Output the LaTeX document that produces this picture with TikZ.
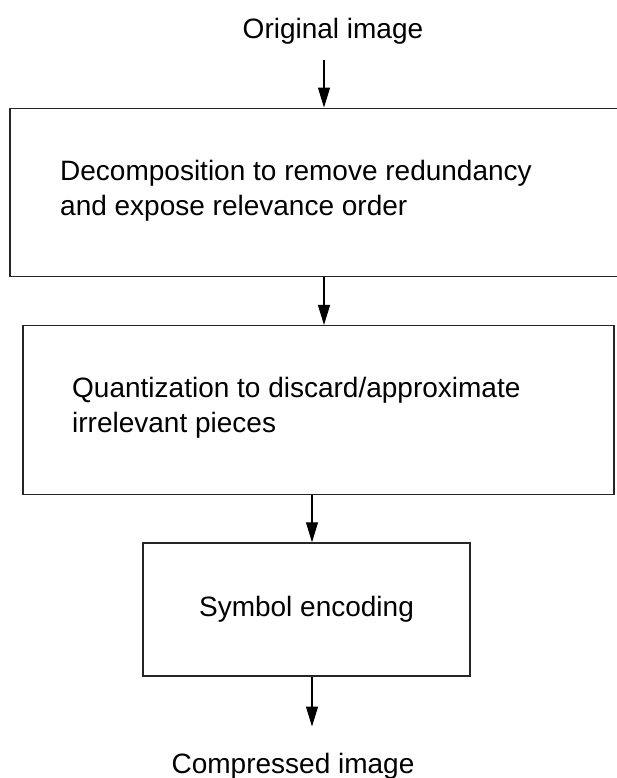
\documentclass[tikz,border=0pt]{standalone}
\usepackage{fontspec}
\setmainfont{Liberation Sans}
\usetikzlibrary{arrows.meta}

\begin{document}
\begin{tikzpicture}[
  x=1pt, y=-1pt,
  font=\fontsize{28}{35}\selectfont,
  box/.style={draw=black!85, line width=1.5pt, inner sep=0pt},
  txt/.style={inner sep=0pt, align=left},
  arr/.style={-{Triangle[length=20pt,width=12pt]}, line width=1.2pt}
]
\useasboundingbox (0,0) rectangle (616,778);

\node[txt, anchor=base, inner ysep=15pt] (orig) at (333,39) {Original image};

\node[box, minimum width=610pt, minimum height=168.4pt] (decomp) at (315,192.5) {};
\node[txt, anchor=base west] (decomptxt) at (60,215) {Decomposition to remove redundancy\\and expose relevance order};

\node[box, minimum width=591.3pt, minimum height=168.8pt] (quant) at (318.4,410.1) {};
\node[txt, anchor=base west] (quanttxt) at (72,432) {Quantization to discard/approximate\\irrelevant pieces};

\node[box, minimum width=327pt, minimum height=133pt] (encode) at (306.5,609.5) {Symbol encoding};

\node[txt, anchor=base, inner ysep=26pt] (comp) at (293,773) {Compressed image};

\coordinate (upper) at (324,0);
\coordinate (lower) at (312,0);
\draw[arr] (orig.south -| upper) -- (decomp.north -| upper);
\draw[arr] (decomp.south -| upper) -- (quant.north -| upper);
\draw[arr] (quant.south -| lower) -- (encode.north -| lower);
\draw[arr] (encode.south -| lower) -- (comp.north -| lower);

\end{tikzpicture}
\end{document}
